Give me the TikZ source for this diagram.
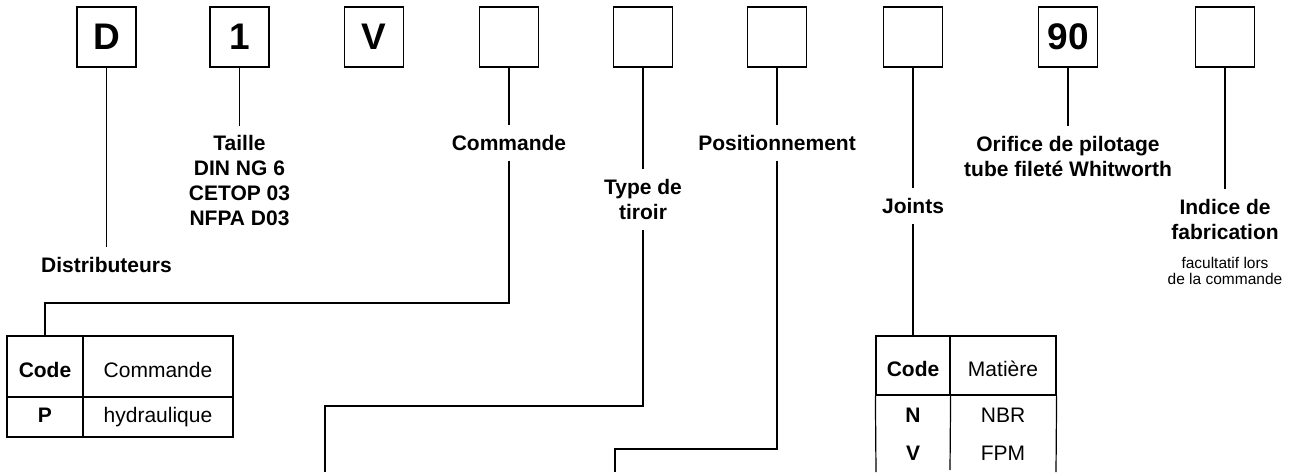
\documentclass[tikz,border=0pt]{standalone}
\usepackage{fontspec}
\setmainfont{Liberation Sans}
\usetikzlibrary{positioning,calc}

\begin{document}
\begin{tikzpicture}[
  x=1pt,y=-1pt,
  codebox/.style={draw,line width=1.3pt,minimum width=59pt,minimum height=60pt,inner sep=0pt,font=\fontsize{37}{37}\selectfont\bfseries},
  field/.style={align=center,inner sep=0pt,outer sep=10pt,font=\fontsize{21}{25}\selectfont\bfseries},
  hint/.style={align=center,inner sep=0pt,font=\fontsize{15.5}{16}\selectfont},
  cell/.style={draw,line width=1.2pt,inner sep=0pt,text height=15pt,text depth=4pt,font=\fontsize{21}{21}\selectfont},
  toprow/.style={text height=26pt},
  head/.style={cell,font=\fontsize{21}{21}\selectfont\bfseries},
  entry/.style={inner sep=0pt,font=\fontsize{21}{21}\selectfont},
  wire/.style={draw=black,line width=1.2pt}
]
\useasboundingbox (0,0) rectangle (1293,472);

% code boxes
\node[codebox] (bD) at (106.5,37) {D};
\node[codebox] (bTaille) at (239.5,37) {1};
\node[codebox] (bV) at (374,37) {V};
\node[codebox] (bCmd) at (509,37) {};
\node[codebox] (bTiroir) at (643,37) {};
\node[codebox] (bPos) at (777,37) {};
\node[codebox] (bJoints) at (913,37) {};
\node[codebox] (bOrif) at (1068,37) {90};
\node[codebox] (bIndice) at (1225,37) {};

% labels
\node[field] (lDist) at (106.5,265) {Distributeurs};
\node[field] (lTaille) at (239.5,181) {Taille\\DIN NG 6\\CETOP 03\\NFPA D03};
\node[field] (lCmd) at (509,143) {Commande};
\node[field] (lTiroir) at (643,199.5) {Type de\\tiroir};
\node[field] (lPos) at (777,143) {Positionnement};
\node[field] (lJoints) at (913,206) {Joints};
\node[field] (lOrif) at (1068,156) {Orifice de pilotage\\tube filet\'e Whitworth};
\node[field] (lIndice) at (1225,219) {Indice de\\fabrication};
\node[hint] (lOpt) at (1225,271) {facultatif lors\\de la commande};

% table Commande
\node[head,toprow,minimum width=76pt,minimum height=61pt] (cCode) at (45,366.5) {Code};
\node[cell,toprow,minimum width=150pt,minimum height=61pt] (cCmd) at (158,366.5) {Commande};
\node[head,minimum width=76pt,minimum height=40pt] (cP) at (45,417) {P};
\node[cell,minimum width=150pt,minimum height=40pt] (cHyd) at (158,417) {hydraulique};

% table Joints
\node[head,toprow,minimum width=74pt,minimum height=59pt] (jCode) at (913,365.5) {Code};
\node[cell,toprow,minimum width=106pt,minimum height=59pt] (jMat) at (1003,365.5) {Mati\`ere};
\node[entry,font=\fontsize{21}{21}\selectfont\bfseries] (jN) at (913,415) {N};
\node[entry] (jNBR) at (1003,415) {NBR};
\node[entry,font=\fontsize{21}{21}\selectfont\bfseries] (jV) at (913,453) {V};
\node[entry] (jFPM) at (1003,453) {FPM};
\coordinate (jLeft) at (876,472);
\coordinate (jMid) at (950,470);
\coordinate (jRight) at (1056,472);
\draw[wire] (jCode.south west) -- (jLeft);
\draw[wire] (jCode.south east) -- (jMid);
\draw[wire] (jMat.south east) -- (jRight);

% bends
\coordinate (cmdBend) at (509,303);
\coordinate (tiroirBend) at (643,406);
\coordinate (tiroirEnd) at (325,472);
\coordinate (posBend) at (777,449);
\coordinate (posEnd) at (615,472);

\draw[wire] (bD) -- (lDist);
\draw[wire] (bTaille) -- (lTaille);
\draw[wire] (bCmd) -- (lCmd);
\draw[wire] (bTiroir) -- (lTiroir);
\draw[wire] (bPos) -- (lPos);
\draw[wire] (bJoints) -- (lJoints);
\draw[wire] (bOrif) -- (lOrif);
\draw[wire] (bIndice) -- (lIndice);

\draw[wire] (lCmd) -- (cmdBend) -| (cCode);
\draw[wire] (lTiroir) -- (tiroirBend) -| (tiroirEnd);
\draw[wire] (lPos) -- (posBend) -| (posEnd);
\draw[wire] (lJoints) -- (jCode);
\end{tikzpicture}
\end{document}
